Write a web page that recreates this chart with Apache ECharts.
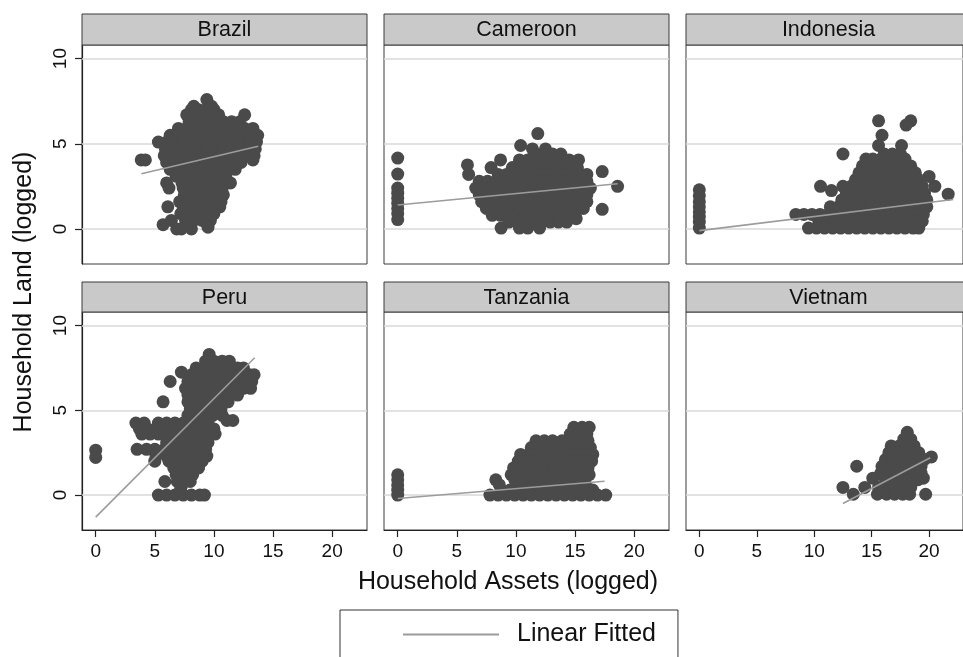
<!DOCTYPE html>
<html><head><meta charset="utf-8">
<script src="https://cdn.jsdelivr.net/npm/echarts@6/dist/echarts.min.js"></script>
<style>html,body{margin:0;padding:0;background:#fff}#c{width:963px;height:657px}</style>
</head><body><div id="c"></div>
<script>
// ---------- data ----------
const countries = ['Brazil', 'Cameroon', 'Indonesia', 'Peru', 'Tanzania', 'Vietnam'];
const xTicks = [0, 5, 10, 15, 20];
const yTicks = [0, 5, 10];
const legendLabel = 'Linear Fitted';
const xTitle = 'Household Assets (logged)';
const yTitle = 'Household Land (logged)';

// each row: [landValue, assets1, assets2, ...]
const brazilRows = [
  [7.6, 9.4],
  [7.2, 8.3, 9.8],
  [7.0, 8.1, 8.7, 9.3, 10.0],
  [6.7, 7.7, 8.5, 9.2, 9.8, 10.4, 12.6],
  [6.3, 7.9, 8.7, 9.4, 10.1, 10.8, 11.5, 12.2],
  [5.9, 7.0, 7.7, 8.4, 9.1, 9.8, 10.5, 11.2, 11.9, 12.6, 13.3],
  [5.5, 6.3, 7.0, 7.7, 8.4, 9.1, 9.8, 10.5, 11.2, 11.9, 12.6, 13.3, 13.7],
  [5.1, 5.3, 6.0, 6.7, 7.4, 8.1, 8.8, 9.5, 10.2, 10.9, 11.6, 12.3, 13.0, 13.6],
  [4.7, 5.9, 6.6, 7.3, 8.0, 8.7, 9.4, 10.1, 10.8, 11.5, 12.2, 12.9, 13.5],
  [4.3, 5.8, 6.5, 7.2, 7.9, 8.6, 9.3, 10.0, 10.7, 11.4, 12.1, 12.8, 13.4],
  [4.05, 3.85, 4.2, 13.3],
  [3.9, 6.0, 6.7, 7.4, 8.1, 8.8, 9.5, 10.2, 10.9, 11.6, 12.3],
  [3.5, 6.3, 7.0, 7.7, 8.4, 9.1, 9.8, 10.5, 11.2, 11.8],
  [3.1, 6.8, 7.5, 8.2, 8.9, 9.6, 10.3, 11.0],
  [2.7, 6.0, 7.3, 8.0, 8.7, 9.4, 10.1, 10.8, 11.4],
  [2.4, 6.2, 7.4, 8.1, 8.8, 9.5, 10.2, 10.7],
  [2.0, 7.5, 8.2, 8.9, 9.6, 10.3, 10.8],
  [1.6, 7.1, 7.8, 8.5, 9.2, 9.9, 10.6],
  [1.3, 6.1, 7.4, 8.1, 8.8, 9.5, 10.5],
  [0.9, 7.2, 7.9, 8.6, 9.3, 10.0],
  [0.5, 6.4, 7.6, 8.3, 9.0, 9.7],
  [0.25, 5.7],
  [0.1, 9.5],
  [0.0, 6.85, 7.25, 8.1]
];
const cameroonRows = [
  [5.6, 11.85],
  [4.9, 10.4],
  [4.7, 11.4, 12.5],
  [4.4, 11.7, 12.4, 13.1, 13.8],
  [4.16, 0],
  [4.05, 8.7, 10.3, 11.0, 11.7, 12.4, 13.1, 13.8, 14.5, 15.3],
  [3.76, 5.9],
  [3.6, 7.9, 9.7, 10.4, 11.1, 11.8, 12.5, 13.2, 13.9, 14.6, 15.2],
  [3.37, 17.3],
  [3.22, 0],
  [3.2, 6.0, 8.5, 9.2, 9.9, 10.6, 11.3, 12.0, 12.7, 13.4, 14.1, 14.8, 15.5, 16.0],
  [2.8, 6.9, 7.6, 8.3, 9.0, 9.7, 10.4, 11.1, 11.8, 12.5, 13.2, 13.9, 14.6, 15.3, 16.0],
  [2.5, 18.6],
  [2.4, 0, 6.6, 7.3, 8.0, 8.7, 9.4, 10.1, 10.8, 11.5, 12.2, 12.9, 13.6, 14.3, 15.0, 15.7, 16.3],
  [2.1, 0],
  [2.0, 6.9, 7.6, 8.3, 9.0, 9.7, 10.4, 11.1, 11.8, 12.5, 13.2, 13.9, 14.6, 15.3, 16.0],
  [1.8, 0],
  [1.6, 7.1, 7.8, 8.5, 9.2, 9.9, 10.6, 11.3, 12.0, 12.7, 13.4, 14.1, 14.8, 15.5, 16.0],
  [1.5, 0],
  [1.2, 0, 7.5, 8.2, 8.9, 9.6, 10.3, 11.0, 11.7, 12.4, 13.1, 13.8, 14.5, 15.2, 15.7],
  [1.15, 17.3],
  [0.9, 0],
  [0.8, 8.0, 8.7, 9.4, 10.1, 10.8, 11.5, 12.2, 12.9, 13.6, 14.3, 15.0],
  [0.6, 15.1],
  [0.55, 0],
  [0.4, 9.4, 10.1, 10.8, 11.5, 12.2, 12.9, 13.6, 14.3],
  [0.05, 8.75, 10.3, 11.0, 12.0]
];
const indonesiaRows = [
  [6.35, 15.6, 18.4],
  [6.1, 18.0],
  [5.5, 15.9],
  [4.9, 15.6, 17.6],
  [4.4, 12.5, 16.1, 16.8, 17.5],
  [4.1, 14.5, 15.1, 15.8, 16.5, 17.2, 17.9],
  [3.7, 14.2, 14.9, 15.6, 16.3, 17.0, 17.7, 18.4],
  [3.3, 13.9, 14.6, 15.3, 16.0, 16.7, 17.4, 18.1, 18.8],
  [3.08, 20.0],
  [2.9, 13.6, 14.3, 15.0, 15.7, 16.4, 17.1, 17.8, 18.5, 19.1],
  [2.5, 10.55, 12.5, 13.2, 13.9, 14.6, 15.3, 16.0, 16.7, 17.4, 18.1, 18.8, 19.4, 20.5],
  [2.3, 0],
  [2.25, 11.5],
  [2.1, 12.8, 13.5, 14.2, 14.9, 15.6, 16.3, 17.0, 17.7, 18.4, 19.1, 19.6],
  [2.04, 21.66],
  [1.95, 0],
  [1.7, 12.4, 13.1, 13.8, 14.5, 15.2, 15.9, 16.6, 17.3, 18.0, 18.7, 19.4, 19.8],
  [1.6, 0],
  [1.3, 0, 11.4, 12.1, 12.8, 13.5, 14.2, 14.9, 15.6, 16.3, 17.0, 17.7, 18.4, 19.1, 19.8],
  [1.0, 0],
  [0.85, 8.4, 9.1, 9.8, 10.5, 11.2, 11.9, 12.6, 13.3, 14.0, 14.7, 15.4, 16.1, 16.8, 17.5, 18.2, 18.9, 19.5],
  [0.7, 0],
  [0.45, 10.4, 11.1, 11.8, 12.5, 13.2, 13.9, 14.6, 15.3, 16.0, 16.7, 17.4, 18.1, 18.8, 19.4],
  [0.4, 0],
  [0.05, 0, 9.5, 10.2, 10.9, 11.6, 12.3, 13.0, 13.7, 14.4, 15.1, 15.8, 16.5, 17.2, 17.9, 18.6, 19.1]
];
const peruRows = [
  [8.3, 9.6],
  [7.9, 9.3, 10.0, 10.7, 11.3],
  [7.5, 8.5, 9.2, 9.9, 10.6, 11.3, 12.0, 12.5],
  [7.25, 7.25],
  [7.1, 8.1, 8.8, 9.5, 10.2, 10.9, 11.6, 12.3, 13.0, 13.4],
  [6.7, 6.3, 7.8, 8.5, 9.2, 9.9, 10.6, 11.3, 12.0, 12.7, 13.2],
  [6.3, 7.6, 8.3, 9.0, 9.7, 10.4, 11.1, 11.8, 12.5, 13.1],
  [5.9, 7.8, 8.5, 9.2, 9.9, 10.6, 11.3, 12.0],
  [5.5, 5.7, 7.8, 8.5, 9.2, 9.9, 10.6, 11.2],
  [5.1, 8.0, 8.7, 9.4, 10.1, 10.6],
  [4.7, 7.8, 8.5, 9.2, 9.9, 10.7],
  [4.4, 11.1, 11.6],
  [4.25, 3.4, 4.1, 5.3, 6.0, 6.7, 7.4, 8.1, 8.8, 9.5],
  [3.9, 3.7, 4.4, 5.1, 5.8, 6.5, 7.2, 7.9, 8.6, 9.3, 10.0],
  [3.6, 3.9, 4.6, 5.3, 6.0, 6.7, 7.4, 8.1, 8.8, 9.5, 10.1],
  [3.1, 6.0, 6.7, 7.4, 8.1, 8.8, 9.5],
  [2.7, 3.5, 4.3, 5.0, 5.8, 6.5, 7.2, 7.9, 8.6, 9.3],
  [2.65, 0],
  [2.3, 5.1, 6.0, 6.7, 7.4, 8.1, 8.8, 9.4],
  [2.22, 0],
  [2.0, 5.0, 6.2, 6.9, 7.6, 8.3, 9.0],
  [1.6, 6.6, 7.3, 8.0, 8.7],
  [1.2, 6.8, 7.5, 8.2],
  [0.8, 5.85, 6.9, 7.6, 8.0],
  [0.4, 7.2],
  [0.0, 5.3, 6.0, 6.7, 7.4, 8.1, 8.8, 9.2]
];
const tanzaniaRows = [
  [4.0, 14.9, 15.6, 16.2],
  [3.6, 14.6, 15.3, 16.0],
  [3.2, 11.7, 12.4, 13.1, 13.9, 14.6, 15.3, 16.1],
  [2.8, 11.3, 12.0, 12.7, 13.4, 14.1, 14.8, 15.5, 16.3],
  [2.4, 10.4, 11.1, 11.8, 12.5, 13.2, 13.9, 14.6, 15.3, 16.0, 16.5],
  [2.0, 10.2, 10.9, 11.6, 12.3, 13.0, 13.7, 14.4, 15.1, 15.8, 16.4],
  [1.6, 9.8, 10.5, 11.2, 11.9, 12.6, 13.3, 14.0, 14.7, 15.4, 16.1],
  [1.2, 0, 9.6, 10.3, 11.0, 11.7, 12.4, 13.1, 13.8, 14.5, 15.2, 15.8, 16.2],
  [0.9, 0, 8.3, 9.9, 10.6, 11.3, 12.0, 12.7, 13.4, 14.1, 14.8, 15.5],
  [0.6, 0, 8.6, 10.2, 11.5, 12.9, 14.3, 15.9],
  [0.3, 0, 9.5, 11.0, 12.3, 13.7, 15.0, 16.5],
  [0.0, 0, 7.8, 8.5, 9.2, 9.9, 10.6, 11.3, 12.0, 12.7, 13.4, 14.1, 14.8, 15.5, 16.2, 16.9, 17.6]
];
const vietnamRows = [
  [3.7, 18.1],
  [3.3, 17.8, 18.4],
  [2.9, 16.7, 17.4, 18.1, 18.7],
  [2.5, 16.5, 17.2, 17.9, 18.6, 19.1],
  [2.25, 20.2],
  [2.1, 16.2, 16.9, 17.6, 18.3, 19.0, 19.6],
  [1.7, 13.7, 15.9, 16.6, 17.3, 18.0, 18.7, 19.3],
  [1.3, 15.8, 16.5, 17.2, 17.9, 18.6, 19.3],
  [1.0, 15.1, 19.5],
  [0.9, 16.2, 16.9, 17.6, 18.3, 19.0],
  [0.45, 12.5, 14.4, 15.6, 16.3, 17.0, 17.7, 18.4],
  [0.05, 13.4, 15.5, 16.3, 17.0, 17.7, 18.3, 19.7]
];

// fitted line end points [assets, land]
const brazilFit = [[3.87, 3.24], [13.75, 4.85]];
const cameroonFit = [[0, 1.4], [18.6, 2.65]];
const indonesiaFit = [[0, -0.1], [22.1, 1.73]];
const peruFit = [[0, -1.3], [13.45, 8.1]];
const tanzaniaFit = [[0, -0.2], [17.5, 0.82]];
const vietnamFit = [[12.5, -0.5], [20.1, 2.2]];

const allRows = [brazilRows, cameroonRows, indonesiaRows, peruRows, tanzaniaRows, vietnamRows];
const allFits = [brazilFit, cameroonFit, indonesiaFit, peruFit, tanzaniaFit, vietnamFit];

// ---------- layout / style ----------
const FONT = '"Liberation Sans", Arial, Helvetica, sans-serif';
const colLeft = [82, 384, 686];
const panelW = 285;
const headerTop = [14, 282];
const headerH = [31, 30];
const plotTop = [45, 312];
const plotH = [219, 218];
const X_MIN = -1.16, X_MAX = 22.95, Y_MIN = -2.06, Y_MAX = 10.8;
const FIT_COLOR = '#9c9c9c';

function rowsToPoints(rows) {
  const pts = [];
  rows.forEach(r => { for (let k = 1; k < r.length; k++) pts.push([r[k], r[0]]); });
  return pts;
}

const grids = [], xAxes = [], yAxes = [], series = [], graphics = [];
countries.forEach((name, i) => {
  const c = i % 3, r = Math.floor(i / 3);
  grids.push({ left: colLeft[c], top: plotTop[r], width: panelW, height: plotH[r],
    show: true, borderColor: '#3a3a3a', borderWidth: 1, backgroundColor: '#fff', containLabel: false });
  xAxes.push({ type: 'value', gridIndex: i, min: X_MIN, max: X_MAX,
    axisLine: { show: r === 1, onZero: false, lineStyle: { color: '#222', width: 1.2 } },
    axisTick: { show: r === 1, length: 7, customValues: xTicks, lineStyle: { color: '#222', width: 1.2 } },
    axisLabel: { show: r === 1, customValues: xTicks, fontSize: 19, color: '#111', fontFamily: FONT, margin: 12 },
    splitLine: { show: false } });
  yAxes.push({ type: 'value', gridIndex: i, min: Y_MIN, max: Y_MAX,
    axisLine: { show: c === 0, onZero: false, lineStyle: { color: '#222', width: 1.2 } },
    axisTick: { show: c === 0, length: 7, customValues: yTicks, lineStyle: { color: '#222', width: 1.2 } },
    axisLabel: { show: c === 0, customValues: yTicks, rotate: 90, fontSize: 19, color: '#111', fontFamily: FONT, margin: 12 },
    splitLine: { show: false } });
  series.push({ type: 'scatter', name: name, xAxisIndex: i, yAxisIndex: i,
    data: rowsToPoints(allRows[i]), symbolSize: 13, z: 2,
    itemStyle: { color: '#4a4a4a', opacity: 1 }, emphasis: { disabled: true },
    markLine: { silent: true, z: 1, symbol: ['none', 'none'], label: { show: false },
      lineStyle: { color: '#d8d8d8', width: 1.5, type: 'solid' }, emphasis: { disabled: true },
      animation: false, data: yTicks.map(v => ({ yAxis: v })) } });
  series.push({ type: 'line', name: legendLabel, xAxisIndex: i, yAxisIndex: i,
    data: allFits[i], symbol: 'none', z: 3,
    lineStyle: { color: FIT_COLOR, width: 1.6 }, itemStyle: { color: FIT_COLOR }, emphasis: { disabled: true } });
  graphics.push({ type: 'rect', shape: { x: colLeft[c], y: headerTop[r], width: panelW, height: headerH[r] },
    style: { fill: '#c9c9c9', stroke: '#3a3a3a', lineWidth: 1 }, z: 10 });
  graphics.push({ type: 'text', x: colLeft[c] + panelW / 2, y: headerTop[r] + headerH[r] / 2 + 1,
    style: { text: name, textAlign: 'center', textVerticalAlign: 'middle', fontSize: 21.5, fontFamily: FONT, fill: '#111' }, z: 11 });
});

graphics.push({ type: 'text', x: 24, y: 292, rotation: Math.PI / 2,
  style: { text: yTitle, textAlign: 'center', textVerticalAlign: 'middle', fontSize: 25, fontFamily: FONT, fill: '#111' } });
graphics.push({ type: 'text', x: 508, y: 582,
  style: { text: xTitle, textAlign: 'center', textVerticalAlign: 'middle', fontSize: 25, fontFamily: FONT, fill: '#111' } });

const chart = echarts.init(document.getElementById('c'), null, { renderer: 'canvas' });
chart.setOption({
  animation: false,
  backgroundColor: '#fff',
  grid: grids, xAxis: xAxes, yAxis: yAxes, series: series,
  graphic: { elements: graphics },
  legend: { data: [{ name: legendLabel, icon: 'rect' }], selectedMode: false, left: 340, top: 610,
    padding: [12, 22, 40, 63], borderColor: '#333', borderWidth: 1, backgroundColor: '#fff',
    itemWidth: 96, itemHeight: 2, itemStyle: { color: FIT_COLOR, borderWidth: 0 },
    textStyle: { fontSize: 25, color: '#111', fontFamily: FONT, padding: [0, 0, 0, 13] } }
});
</script></body></html>
